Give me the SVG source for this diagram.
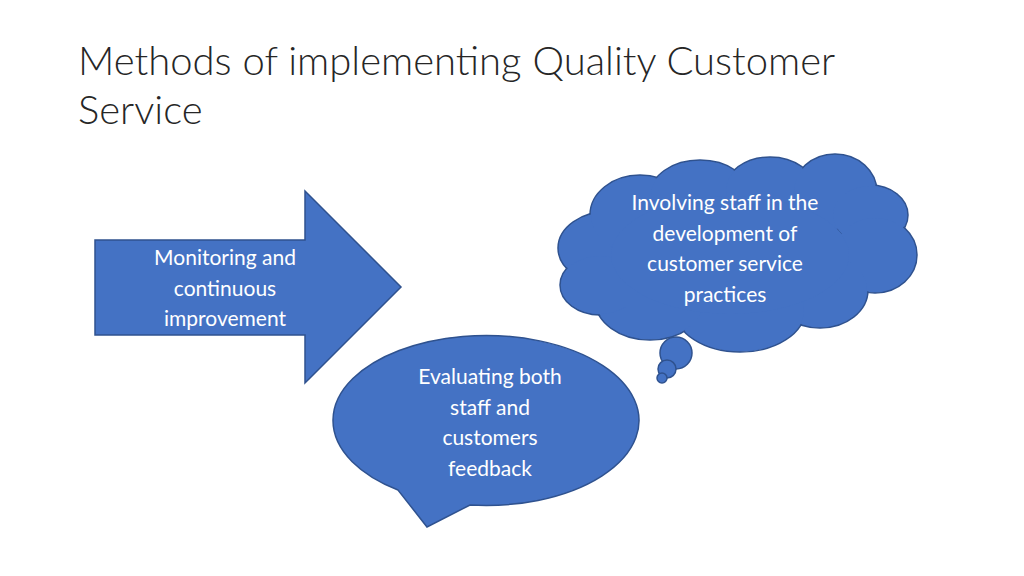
<svg xmlns="http://www.w3.org/2000/svg" width="1024" height="576" viewBox="0 0 1024 576">
<style>
.s{fill:#4472C4;stroke:#2F528F;stroke-width:1.5}
.f{fill:#4472C4}
.t{font-family:Lato,"Open Sans",sans-serif;font-size:21px;fill:#fff;text-anchor:middle}
.h{font-family:Lato,"Open Sans",sans-serif;font-weight:300;font-size:40px;fill:#262626}
</style>
<rect width="1024" height="576" fill="#fff"/>
<g id="title"><text class="h" x="78" y="75">Methods of implementing Quality Customer</text><text class="h" x="78" y="124">Service</text></g>
<g id="arrow">
<path class="s" d="M95,240H305V191L401,287L305,383V335H95Z"/>
<text class="t" x="225" y="265">Monitoring and</text><text class="t" x="225" y="296">continuous</text><text class="t" x="225" y="326">improvement</text>
</g>
<g id="bubble">
<path class="s" d="M398,490 A153,85 0 1 1 470,505 L427,527 Z"/>
<text class="t" x="490" y="384">Evaluating both</text><text class="t" x="490" y="415">staff and</text><text class="t" x="490" y="445">customers</text><text class="t" x="490" y="476">feedback</text>
</g>
<g id="cloud">
<g class="s">
<ellipse cx="610" cy="248" rx="52" ry="37"/>
<ellipse cx="640" cy="215" rx="50" ry="40"/>
<ellipse cx="700" cy="195" rx="50" ry="35"/>
<ellipse cx="770" cy="190" rx="45" ry="33"/>
<ellipse cx="835" cy="192" rx="42" ry="38"/>
<ellipse cx="870" cy="215" rx="38" ry="30"/>
<ellipse cx="875" cy="255" rx="42" ry="38"/>
<ellipse cx="820" cy="290" rx="48" ry="38"/>
<ellipse cx="740" cy="310" rx="65" ry="42"/>
<ellipse cx="650" cy="300" rx="55" ry="40"/>
<ellipse cx="600" cy="285" rx="40" ry="30"/>
<ellipse cx="730" cy="255" rx="120" ry="60"/>
</g>
<g class="f">
<ellipse cx="610" cy="248" rx="51" ry="36"/>
<ellipse cx="640" cy="215" rx="49" ry="39"/>
<ellipse cx="700" cy="195" rx="49" ry="34"/>
<ellipse cx="770" cy="190" rx="44" ry="32"/>
<ellipse cx="835" cy="192" rx="41" ry="37"/>
<ellipse cx="870" cy="215" rx="37" ry="29"/>
<ellipse cx="875" cy="255" rx="41" ry="37"/>
<ellipse cx="820" cy="290" rx="47" ry="37"/>
<ellipse cx="740" cy="310" rx="64" ry="41"/>
<ellipse cx="650" cy="300" rx="54" ry="39"/>
<ellipse cx="600" cy="285" rx="39" ry="29"/>
<ellipse cx="730" cy="255" rx="119" ry="59"/>
</g>
<circle class="s" cx="676" cy="353" r="16"/>
<circle class="s" cx="667" cy="369" r="9"/>
<circle class="s" cx="662" cy="378" r="5"/>
<text class="t" x="725" y="210">Involving staff in the</text><text class="t" x="725" y="241">development of</text><text class="t" x="725" y="271">customer service</text><text class="t" x="725" y="302">practices</text>
</g>
<g id="connectors"/>
</svg>
